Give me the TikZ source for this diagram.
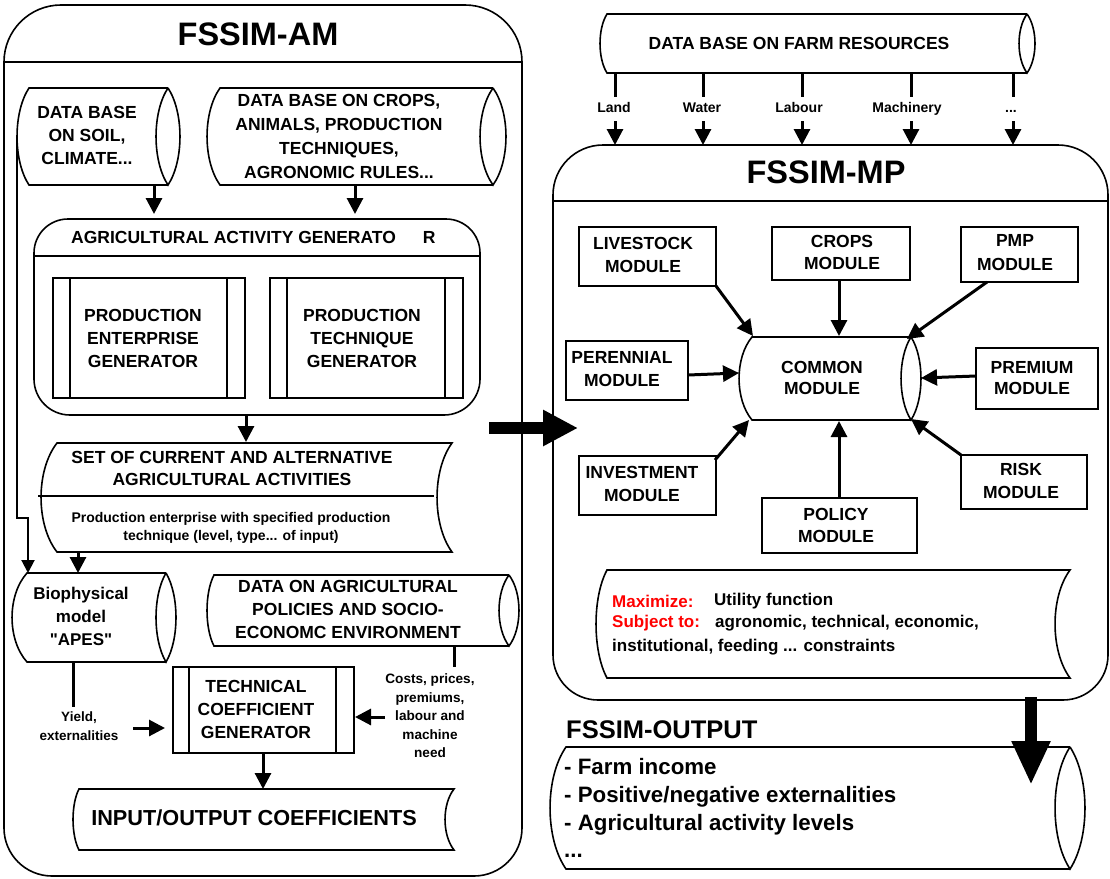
\documentclass[tikz,border=0pt]{standalone}
\usepackage{fontspec}
\setmainfont{Liberation Sans}[Ligatures=TeXOff]
\usetikzlibrary{arrows.meta}
\newcommand\fsz[2]{\fontsize{#1}{#2}\selectfont\bfseries}
% horizontal cylinder: x-left, x-right(ellipse centre), y-top, y-bottom, left bulge, ellipse half width
\newcommand\hcyl[6]{%
  \draw[box] (#2,#3) -- (#1,#3) .. controls ({#1-1.33*#5},{#3+0.25*(#4-#3)}) and ({#1-1.33*#5},{#4-0.25*(#4-#3)}) .. (#1,#4) -- (#2,#4);
  \draw[box] (#2,#3) .. controls ({#2-1.33*#6},{#3+0.25*(#4-#3)}) and ({#2-1.33*#6},{#4-0.25*(#4-#3)}) .. (#2,#4)
     .. controls ({#2+1.33*#6},{#4-0.25*(#4-#3)}) and ({#2+1.33*#6},{#3+0.25*(#4-#3)}) .. (#2,#3);}
% stored data: x-left, x-right, y-top, y-bottom, left bulge, right concavity
\newcommand\sdata[6]{%
  \draw[box] (#1,#3) -- (#2,#3) .. controls ({#2-1.33*#6},{#3+0.25*(#4-#3)}) and ({#2-1.33*#6},{#4-0.25*(#4-#3)}) .. (#2,#4)
   -- (#1,#4) .. controls ({#1-1.33*#5},{#4-0.25*(#4-#3)}) and ({#1-1.33*#5},{#3+0.25*(#4-#3)}) .. (#1,#3) -- cycle;}
\begin{document}
\begin{tikzpicture}[x=1pt,y=-1pt,
  box/.style={line width=1.6pt},
  arr/.style={line width=3pt,-{Triangle[length=16pt,width=16pt]}},
  thin arr/.style={line width=2pt,-{Triangle[length=13pt,width=13pt]}},
  plain/.style={line width=3pt},
  lbl/.style={inner sep=0pt,align=center}]
\useasboundingbox (0,0) rectangle (1110,878);

% ================= FSSIM-AM =================
\draw[box] (4,200) [rounded corners=57pt] -- (4,5) -- (522,5) -- (522,200);
\draw[box] (4,190) [rounded corners=48pt] -- (4,876) -- (522,876) -- (522,190);
\draw[box] (4,62) -- (522,62);
\node[lbl,font=\fsz{32.5}{36}] (amt) at (258,34) {FSSIM-AM};

\hcyl{29}{168}{88}{185}{12}{12}
\node[lbl,font=\fsz{17.5}{23}] (soil) at (87,135) {DATA BASE\\ON SOIL,\\CLIMATE...};
\hcyl{220}{493}{88}{185}{13}{13}
\node[lbl,font=\fsz{17.5}{24}] (cropsdb) at (339,136) {DATA BASE ON CROPS,\\ANIMALS, PRODUCTION\\TECHNIQUES,\\AGRONOMIC RULES...};

\coordinate (soilB) at (154,185); \coordinate (aagT1) at (154,214);
\coordinate (cropB) at (355,185); \coordinate (aagT2) at (355,214);
\draw[arr] (soilB) -- (aagT1);
\draw[arr] (cropB) -- (aagT2);

% agricultural activity generator
\draw[box] (34,300) [rounded corners=34pt] -- (34,219) -- (480,219) -- (480,300);
\draw[box] (34,300) [rounded corners=36pt] -- (34,415) -- (480,415) -- (480,300);
\draw[box] (34,256) -- (480,256);
\node[lbl,font=\fsz{17.5}{21},anchor=west] (aagt) at (71,237) {AGRICULTURAL ACTIVITY GENERATO\hspace{27pt}R};

\draw[box] (53,278) rectangle (245,398);
\draw[box] (70,278) -- (70,398); \draw[box] (227,278) -- (227,398);
\node[lbl,font=\fsz{17.5}{23}] (peg) at (143,338) {PRODUCTION\\ENTERPRISE\\GENERATOR};
\draw[box] (270,278) rectangle (463,398);
\draw[box] (287,278) -- (287,398); \draw[box] (445,278) -- (445,398);
\node[lbl,font=\fsz{17.5}{23}] (ptg) at (362,338) {PRODUCTION\\TECHNIQUE\\GENERATOR};

\coordinate (aagB) at (246,415); \coordinate (setT) at (246,442);
\draw[arr] (aagB) -- (setT);

% set of activities
\sdata{57}{452}{443}{552}{16}{15}
\draw[box] (38,496) -- (434,496);
\node[lbl,font=\fsz{17.5}{22}] (sett) at (232,468) {SET OF CURRENT AND ALTERNATIVE\\AGRICULTURAL ACTIVITIES};
\node[lbl,font=\fsz{14}{18}] (setd) at (231,528) {Production enterprise with specified production\\technique (level, type... of input)};

\coordinate (soilL) at (17,137); \coordinate (bioT1) at (28,573);
\draw[thin arr] (soilL) -- ++(0,381) -| (bioT1);
\coordinate (setB) at (78,552); \coordinate (bioT2) at (78,573);
\draw[arr] (setB) -- (bioT2);

% biophysical model
\hcyl{27}{166}{573}{662}{15}{10}
\node[lbl,font=\fsz{17}{23}] (bio) at (81,616) {Biophysical\\model\\"APES"};

% policies data
\hcyl{214}{509}{575}{646}{7}{10}
\node[lbl,font=\fsz{17.5}{23}] (pol) at (348,609) {DATA ON AGRICULTURAL\\POLICIES AND SOCIO-\\ECONOMC ENVIRONMENT};
\coordinate (polB) at (454,646); \coordinate (costT) at (454,667);
\draw[plain] (polB) -- (costT);
\node[lbl,font=\fsz{13.6}{18.5}] (cost) at (430,716) {Costs, prices,\\premiums,\\labour and\\machine\\need};
\coordinate (costL) at (385,717); \coordinate (tcgR) at (355,717);
\draw[arr] (costL) -- (tcgR);

% technical coefficient generator
\draw[box] (173,667) rectangle (354,753);
\draw[box] (189,667) -- (189,753); \draw[box] (336,667) -- (336,753);
\node[lbl,font=\fsz{17.5}{23}] (tcg) at (256,709) {TECHNICAL\\COEFFICIENT\\GENERATOR};

\coordinate (bioB) at (73,662); \coordinate (yldT) at (73,707);
\draw[plain] (bioB) -- (yldT);
\node[lbl,font=\fsz{13.5}{19}] (yld) at (79,726) {Yield,\\externalities};
\coordinate (yldR) at (133,728); \coordinate (tcgL) at (165,728);
\draw[arr] (yldR) -- (tcgL);

\coordinate (tcgB) at (263,753); \coordinate (ioT) at (263,789);
\draw[arr] (tcgB) -- (ioT);

\sdata{79}{454}{789}{850}{6}{9}
\node[lbl,font=\fsz{21.7}{24}] (io) at (254,818) {INPUT/OUTPUT COEFFICIENTS};

% big arrow AM -> MP
\coordinate (amR) at (489,428); \coordinate (mpL) at (578,428);
\draw[line width=12pt,-{Triangle[length=35pt,width=34pt]}] (amR) -- (mpL);

% ================= farm resources =================
\hcyl{607}{1027}{14}{73}{7}{8}
\node[lbl,font=\fsz{17.5}{21}] (farm) at (799,43) {DATA BASE ON FARM RESOURCES};

\coordinate (landA) at (615,73); \coordinate (landB) at (615,97);
\coordinate (landC) at (615,121); \coordinate (landD) at (615,145);
\draw[plain] (landA) -- (landB); \draw[arr] (landC) -- (landD);
\node[lbl,font=\fsz{14}{16},anchor=base] (landL) at (614,112) {Land};

\coordinate (watA) at (703,73); \coordinate (watB) at (703,97);
\coordinate (watC) at (703,121); \coordinate (watD) at (703,145);
\draw[plain] (watA) -- (watB); \draw[arr] (watC) -- (watD);
\node[lbl,font=\fsz{14}{16},anchor=base] (watL) at (702,112) {Water};

\coordinate (labA) at (802,73); \coordinate (labB) at (802,97);
\coordinate (labC) at (802,121); \coordinate (labD) at (802,145);
\draw[plain] (labA) -- (labB); \draw[arr] (labC) -- (labD);
\node[lbl,font=\fsz{14}{16},anchor=base] (labL) at (799,112) {Labour};

\coordinate (macA) at (911,73); \coordinate (macB) at (911,97);
\coordinate (macC) at (911,121); \coordinate (macD) at (911,145);
\draw[plain] (macA) -- (macB); \draw[arr] (macC) -- (macD);
\node[lbl,font=\fsz{14}{16},anchor=base] (macL) at (907,112) {Machinery};

\coordinate (etcA) at (1013,73); \coordinate (etcB) at (1013,97);
\coordinate (etcC) at (1013,121); \coordinate (etcD) at (1013,145);
\draw[plain] (etcA) -- (etcB); \draw[arr] (etcC) -- (etcD);
\node[lbl,font=\fsz{14}{16},anchor=base] (etcL) at (1011,112) {...};

% ================= FSSIM-MP =================
\draw[box] (553,300) [rounded corners=50pt] -- (553,145) -- (1108,145) -- (1108,300);
\draw[box] (553,300) [rounded corners=45pt] -- (553,700) -- (1108,700) -- (1108,300);
\draw[box] (553,201) -- (1108,201);
\node[lbl,font=\fsz{32.5}{36}] (mpt) at (826,172) {FSSIM-MP};

\draw[box] (579,227) rectangle (716,286);
\node[lbl,font=\fsz{17.5}{23}] (live) at (643,255) {LIVESTOCK\\MODULE};
\draw[box] (772,227) rectangle (910,280);
\node[lbl,font=\fsz{17.5}{22}] (crop) at (842,252) {CROPS\\MODULE};
\draw[box] (961,227) rectangle (1078,282);
\node[lbl,font=\fsz{17.5}{24}] (pmp) at (1015,253) {PMP\\MODULE};

\hcyl{752}{911}{337}{420}{13}{10}
\node[lbl,font=\fsz{17.5}{21}] (common) at (822,378) {COMMON\\MODULE};

\draw[box] (566,341) rectangle (688,400);
\node[lbl,font=\fsz{17.5}{23}] (peren) at (622,369) {PERENNIAL\\MODULE};
\draw[box] (976,348) rectangle (1098,409);
\node[lbl,font=\fsz{17.5}{21}] (prem) at (1032,378) {PREMIUM\\MODULE};
\draw[box] (579,456) rectangle (716,515);
\node[lbl,font=\fsz{17.5}{23}] (inv) at (642,484) {INVESTMENT\\MODULE};
\draw[box] (762,498) rectangle (917,553);
\node[lbl,font=\fsz{17.5}{22}] (polm) at (836,525) {POLICY\\MODULE};
\draw[box] (961,455) rectangle (1087,509);
\node[lbl,font=\fsz{17.5}{23}] (risk) at (1021,481) {RISK\\MODULE};

\coordinate (liveC) at (716,286); \coordinate (comTL) at (753,336);
\coordinate (cropC) at (839,280); \coordinate (comT) at (839,336);
\coordinate (pmpC) at (987,282); \coordinate (comTR) at (907,339);
\coordinate (perC) at (688,375); \coordinate (comL) at (739,373);
\coordinate (premC) at (976,376); \coordinate (comR) at (921,378);
\coordinate (invC) at (715,460); \coordinate (comBL) at (749,420);
\coordinate (polC) at (839,498); \coordinate (comB) at (839,421);
\coordinate (riskC) at (961,455); \coordinate (comBR) at (911,419);
\draw[arr] (liveC) -- (comTL);
\draw[arr] (cropC) -- (comT);
\draw[arr] (pmpC) -- (comTR);
\draw[arr] (perC) -- (comL);
\draw[arr] (premC) -- (comR);
\draw[arr] (invC) -- (comBL);
\draw[arr] (polC) -- (comB);
\draw[arr] (riskC) -- (comBR);

\sdata{607}{1070}{570}{678}{11}{15}
\node[lbl,font=\fsz{17}{20},anchor=west,text=red] (maxk) at (612,601) {Maximize:};
\node[lbl,font=\fsz{17}{20},anchor=west] (maxv) at (714,601) {Utility function};
\node[lbl,font=\fsz{17}{20},anchor=west,text=red] (subk) at (612,623) {Subject to:};
\node[lbl,font=\fsz{17}{20},anchor=west] (subv) at (715,623) {agronomic, technical, economic,};
\node[lbl,font=\fsz{17}{20},anchor=west] (subw) at (612,647) {institutional, feeding ... constraints};

% ================= FSSIM-OUTPUT =================
\node[lbl,font=\fsz{25.5}{28},anchor=west] (outt) at (566,730) {FSSIM-OUTPUT};
\hcyl{566}{1070}{747}{869}{16}{15}
\node[lbl,font=\fsz{22.3}{26},anchor=base west] (o1) at (564,774) {- Farm income};
\node[lbl,font=\fsz{22.3}{26},anchor=base west] (o2) at (564,802) {- Positive/negative externalities};
\node[lbl,font=\fsz{22.3}{26},anchor=base west] (o3) at (564,830) {- Agricultural activity levels};
\node[lbl,font=\fsz{22.3}{26},anchor=base west] (o4) at (564,857) {...};

\coordinate (mpB) at (1031,697); \coordinate (outT) at (1031,785);
\draw[line width=12pt,-{Triangle[length=44pt,width=36pt]}] (mpB) -- (outT);
\end{tikzpicture}
\end{document}
